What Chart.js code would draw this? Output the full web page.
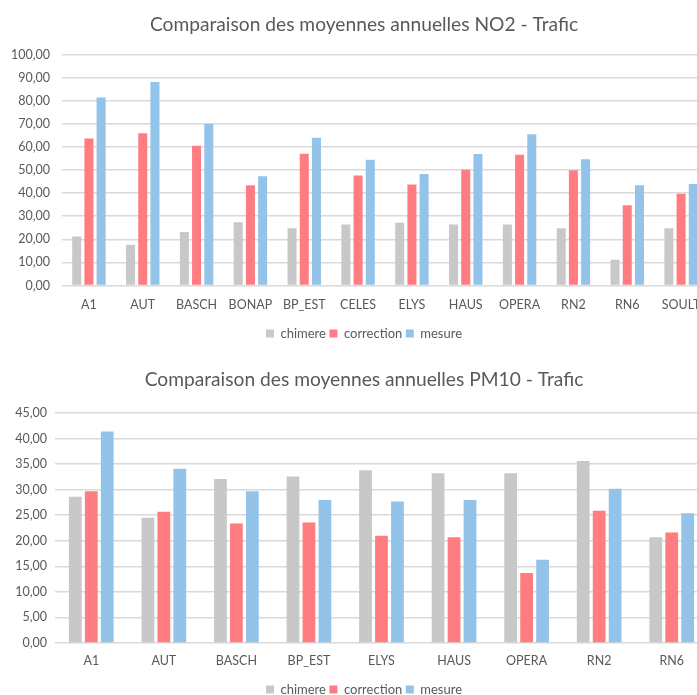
<!DOCTYPE html>
<html lang="fr">
<head>
<meta charset="utf-8">
<title>Comparaison des moyennes annuelles - Trafic</title>
<script src="https://cdn.jsdelivr.net/npm/chart.js@4.4.1/dist/chart.umd.min.js"></script>
<style>
  html, body { margin: 0; padding: 0; background: #ffffff; }
  #page { position: relative; width: 697px; height: 695px; overflow: hidden; background: #fff; }
  .panel { position: absolute; left: 0; width: 728px; }
  #panelNO2 { top: 0; height: 350px; }
  #panelPM10 { top: 352px; height: 351px; }
  canvas { display: block; }
</style>
</head>
<body>
<div id="page">
  <div class="panel" id="panelNO2"><canvas id="chartNO2" width="728" height="350"></canvas></div>
  <div class="panel" id="panelPM10"><canvas id="chartPM10" width="728" height="351"></canvas></div>
</div>
<script>
// Series names
const seriesNames = ['chimere', 'correction', 'mesure'];

// NO2 – stations trafic (µg/m³)
const no2Stations = ['A1', 'AUT', 'BASCH', 'BONAP', 'BP_EST', 'CELES', 'ELYS', 'HAUS', 'OPERA', 'RN2', 'RN6', 'SOULT'];
const no2Chimere    = [21.2, 17.6, 23.2, 27.4, 24.8, 26.4, 27.2, 26.4, 26.4, 24.8, 11.2, 24.8];
const no2Correction = [63.6, 65.9, 60.5, 43.4, 57.0, 47.6, 43.7, 50.1, 56.6, 49.9, 34.7, 39.7];
const no2Mesure     = [81.4, 88.1, 69.9, 47.3, 64.0, 54.4, 48.3, 56.9, 65.5, 54.7, 43.4, 44.0];
const no2Ticks = { min: 0, max: 100, step: 10 };

// PM10 – stations trafic (µg/m³)
const pm10Stations = ['A1', 'AUT', 'BASCH', 'BP_EST', 'ELYS', 'HAUS', 'OPERA', 'RN2', 'RN6'];
const pm10Chimere    = [28.6, 24.5, 32.1, 32.6, 33.8, 33.2, 33.2, 35.6, 20.7];
const pm10Correction = [29.7, 25.7, 23.4, 23.6, 21.0, 20.7, 13.7, 25.9, 21.6];
const pm10Mesure     = [41.4, 34.1, 29.7, 28.0, 27.7, 28.0, 16.3, 30.2, 25.4];
const pm10Ticks = { min: 0, max: 45, step: 5 };

const seriesColors = ['#c8c8c8', '#ff7c80', '#94c3e9'];
const textColor = '#595959';
const gridColor = '#d9d9d9';
const fontFamily = 'Lato, "Open Sans", sans-serif';

function frNumber(v) {
  return v.toFixed(2).replace('.', ',');
}

function buildChart(canvasId, opts) {
  const values = [opts.chimere, opts.correction, opts.mesure];
  const datasets = seriesNames.map((name, i) => ({
    label: name,
    data: values[i],
    backgroundColor: seriesColors[i],
    borderWidth: 0,
    categoryPercentage: opts.categoryPercentage,
    barPercentage: opts.barPercentage
  }));

  return new Chart(document.getElementById(canvasId), {
    type: 'bar',
    data: { labels: opts.labels, datasets },
    options: {
      responsive: false,
      animation: false,
      layout: { padding: { left: 0, right: 0, top: 0, bottom: opts.bottomPad } },
      plugins: {
        title: {
          display: true,
          text: opts.title,
          color: textColor,
          font: { family: fontFamily, size: 19.2, weight: 'normal' },
          padding: { top: opts.titleTop, bottom: opts.titleBottom }
        },
        legend: {
          position: 'bottom',
          labels: {
            color: textColor,
            font: { family: fontFamily, size: 13 },
            boxWidth: 8,
            boxHeight: 8,
            padding: 3.5
          }
        },
        tooltip: { enabled: false }
      },
      scales: {
        x: {
          grid: { display: false, drawTicks: false },
          border: { display: false },
          ticks: {
            color: textColor,
            font: { family: fontFamily, size: 12.5, lineHeight: opts.xLineHeight },
            padding: opts.xTickPad,
            maxRotation: 0,
            autoSkip: false
          }
        },
        y: {
          min: opts.ticks.min,
          max: opts.ticks.max,
          grid: { color: gridColor, lineWidth: 1.5, drawTicks: false },
          border: { display: false },
          ticks: {
            stepSize: opts.ticks.step,
            color: textColor,
            font: { family: fontFamily, size: 12.5 },
            padding: opts.yTickPad,
            callback: (v) => frNumber(v)
          },
          afterFit: (scale) => { scale.width = opts.yWidth; }
        },
        // empty right-hand axis reserving the margin beyond the last category
        yRight: {
          position: 'right',
          display: true,
          grid: { display: false, drawTicks: false },
          border: { display: false },
          ticks: { display: false },
          afterFit: (scale) => { scale.width = 20; }
        }
      }
    }
  });
}

buildChart('chartNO2', {
  title: 'Comparaison des moyennes annuelles NO2 - Trafic',
  labels: no2Stations,
  chimere: no2Chimere,
  correction: no2Correction,
  mesure: no2Mesure,
  ticks: no2Ticks,
  yWidth: 62,
  yTickPad: 12,
  xTickPad: 11.5,
  xLineHeight: 1.2,
  bottomPad: 0,
  titleTop: 13,
  titleBottom: 18.5,
  categoryPercentage: 0.68,
  barPercentage: 0.74
});

buildChart('chartPM10', {
  title: 'Comparaison des moyennes annuelles PM10 - Trafic',
  labels: pm10Stations,
  chimere: pm10Chimere,
  correction: pm10Correction,
  mesure: pm10Mesure,
  ticks: pm10Ticks,
  yWidth: 55,
  yTickPad: 8,
  xTickPad: 12.5,
  xLineHeight: 0.92,
  bottomPad: -3,
  titleTop: 16,
  titleBottom: 22,
  categoryPercentage: 0.66,
  barPercentage: 0.8
});
</script>
</body>
</html>
